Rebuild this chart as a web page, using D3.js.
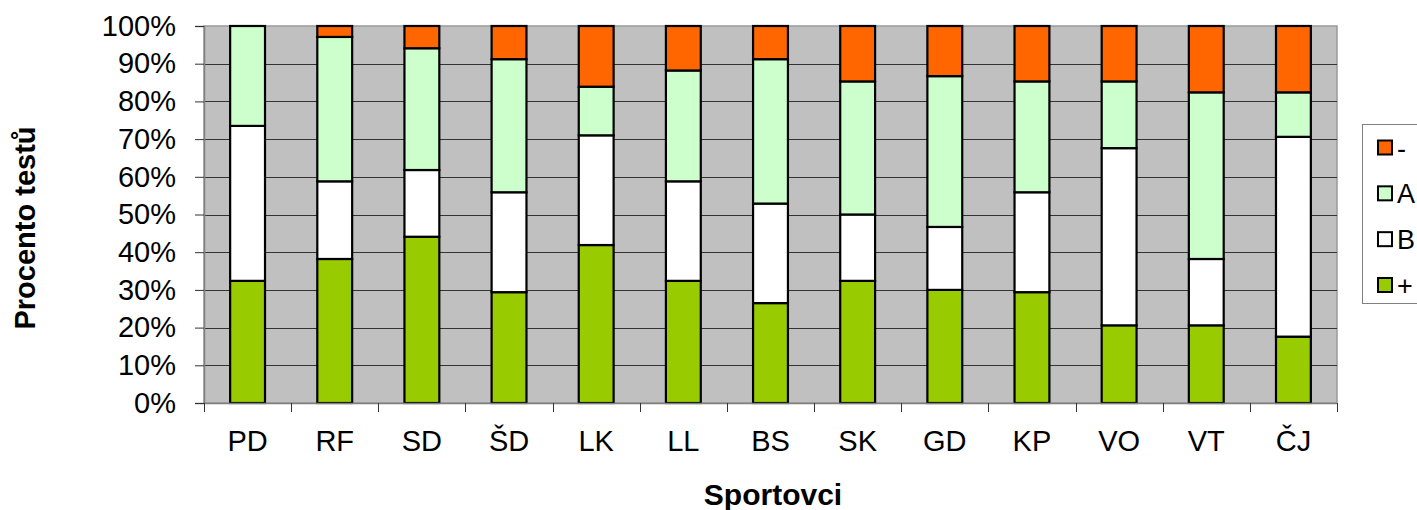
<!DOCTYPE html>
<html>
<head>
<meta charset="utf-8">
<script src="https://cdn.jsdelivr.net/npm/d3@7"></script>
<style>
  html, body { margin: 0; padding: 0; background: #fff; }
  svg { display: block; }
  text { font-family: Arial, "Liberation Sans", sans-serif; }
</style>
</head>
<body>
<svg id="chart" width="1417" height="510"></svg>
<script>
const categories = ["PD", "RF", "SD", "ŠD", "LK", "LL", "BS", "SK", "GD", "KP", "VO", "VT", "ČJ"];
const seriesNames = ["+", "B", "A", "-"];
const plusValues  = [32.4, 38.2, 44.1, 29.4, 41.9, 32.4, 26.5, 32.4, 30.0, 29.4, 20.6, 20.6, 17.6];
const bValues     = [41.1, 20.6, 17.7, 26.5, 29.1, 26.4, 26.4, 17.6, 16.7, 26.5, 47.0, 17.6, 53.0];
const aValues     = [26.5, 38.3, 32.3, 35.3, 12.9, 29.4, 38.3, 35.3, 40.0, 29.4, 17.7, 44.2, 11.8];
const minusValues = [0.0, 2.9, 5.9, 8.8, 16.1, 11.8, 8.8, 14.7, 13.3, 14.7, 14.7, 17.6, 17.6];
const yTicks = [0, 0.1, 0.2, 0.3, 0.4, 0.5, 0.6, 0.7, 0.8, 0.9, 1.0];
const colors = { "+": "#99CC00", "B": "#FFFFFF", "A": "#CCFFCC", "-": "#FF6600" };
const legendOrder = ["-", "A", "B", "+"];

const svg = d3.select("#chart");
const pLeft = 204, pRight = 1337, pTop = 26, pBottom = 403;

const rows = categories.map((c, i) => {
  const vals = { cat: c, "+": plusValues[i], "B": bValues[i], "A": aValues[i], "-": minusValues[i] };
  const tot = plusValues[i] + bValues[i] + aValues[i] + minusValues[i];
  seriesNames.forEach(s => vals[s] = vals[s] / tot);
  return vals;
});
const stacked = d3.stack().keys(seriesNames)(rows);

const x = d3.scaleBand().domain(categories).range([pLeft, pRight]).paddingInner(0.6).paddingOuter(0.3);
const xEdge = d3.scaleBand().domain(categories).range([pLeft, pRight]).padding(0);
const y = d3.scaleLinear().domain([0, 1]).range([pBottom, pTop]);

// plot background
svg.append("rect").attr("x", pLeft).attr("y", pTop).attr("width", pRight - pLeft).attr("height", pBottom - pTop)
  .attr("fill", "#C0C0C0").attr("stroke", "#9a9a9a").attr("stroke-width", 1.5);

// gridlines
svg.append("g").selectAll("line").data(yTicks.filter(t => t > 0 && t < 1)).join("line")
  .attr("x1", pLeft).attr("x2", pRight)
  .attr("y1", d => Math.round(y(d)) + 0.5).attr("y2", d => Math.round(y(d)) + 0.5)
  .attr("stroke", "#333").attr("stroke-width", 1);

// bars
svg.append("g").selectAll("g").data(stacked).join("g")
  .attr("fill", d => colors[d.key])
  .selectAll("rect").data(d => d).join("rect")
  .attr("x", d => x(d.data.cat))
  .attr("width", x.bandwidth())
  .attr("y", d => y(d[1]))
  .attr("height", d => Math.max(0, y(d[0]) - y(d[1])))
  .attr("stroke", "#000").attr("stroke-width", 2.2);

// y axis
const yAxis = d3.axisLeft(y).tickValues(yTicks).tickFormat(d3.format(".0%")).tickSize(9).tickPadding(19);
const gy = svg.append("g").attr("transform", `translate(${pLeft},0)`).call(yAxis);
gy.select(".domain").attr("stroke", "#808080").attr("stroke-width", 1.5);
gy.selectAll(".tick line").attr("stroke", "#333");
gy.selectAll(".tick text").attr("font-size", 29).attr("fill", "#000")
  .attr("font-family", 'Arial, "Liberation Sans", sans-serif');

// x axis with ticks at band edges
const gx = svg.append("g").attr("transform", `translate(0,${pBottom})`);
gx.append("line").attr("x1", pLeft).attr("x2", pRight).attr("y1", 0.5).attr("y2", 0.5)
  .attr("stroke", "#808080").attr("stroke-width", 1.5);
const edges = categories.map(c => xEdge(c)).concat([pRight]);
gx.selectAll("line.tk").data(edges).join("line").attr("class", "tk")
  .attr("x1", d => Math.round(d) + 0.5).attr("x2", d => Math.round(d) + 0.5)
  .attr("y1", 0).attr("y2", 9).attr("stroke", "#333");
gx.selectAll("text").data(categories).join("text")
  .attr("x", d => xEdge(d) + xEdge.bandwidth() / 2)
  .attr("y", 48).attr("text-anchor", "middle").attr("font-size", 29).attr("fill", "#000")
  .text(d => d);

// axis titles
svg.append("text").attr("x", 773).attr("y", 505).attr("text-anchor", "middle")
  .attr("font-size", 30).attr("font-weight", "bold").text("Sportovci");
svg.append("text").attr("transform", "translate(35,228) rotate(-90)").attr("text-anchor", "middle")
  .attr("font-size", 29).attr("font-weight", "bold").text("Procento testů");

// legend
const lg = svg.append("g");
lg.append("rect").attr("x", 1362.5).attr("y", 124.5).attr("width", 80).attr("height", 179)
  .attr("fill", "#fff").attr("stroke", "#808080").attr("stroke-width", 1);
const ly = d3.scalePoint().domain(legendOrder).range([147.5, 285]);
const items = lg.selectAll("g.item").data(legendOrder).join("g").attr("class", "item")
  .attr("transform", d => `translate(0,${ly(d)})`);
items.append("rect").attr("x", 1378).attr("y", -7).attr("width", 14).attr("height", 14)
  .attr("fill", d => colors[d]).attr("stroke", "#000").attr("stroke-width", 2);
items.append("text").attr("x", 1397).attr("y", 10).attr("font-size", 27).attr("fill", "#000").text(d => d);
</script>
</body>
</html>
